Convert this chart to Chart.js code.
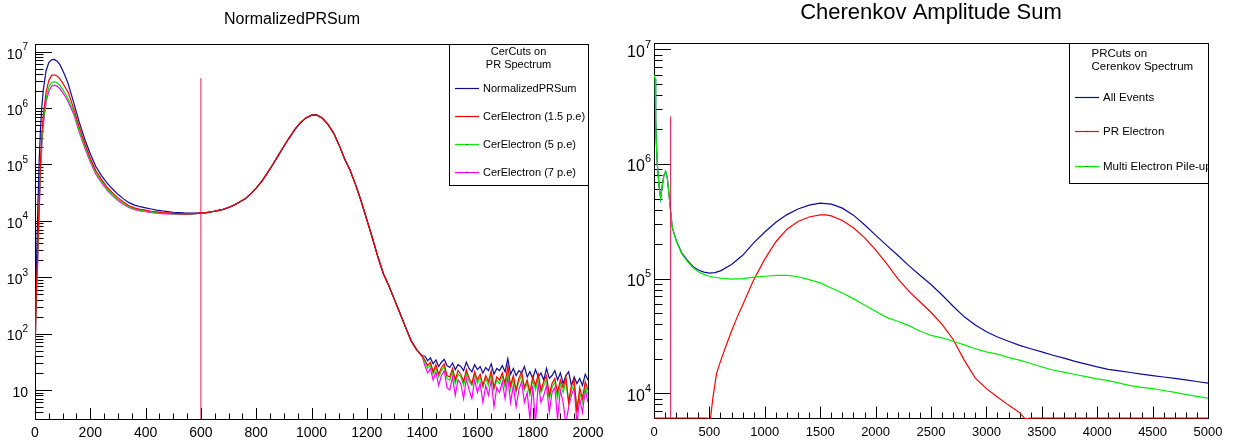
<!DOCTYPE html>
<html lang="en">

<head>
  <meta charset="UTF-8" />
  <title>NormalizedPRSum / Cherenkov Amplitude Sum</title>
  <script src="https://cdn.jsdelivr.net/npm/chart.js"></script>
  <style>
    body {
      margin: 0;
      background: #fff;
    }

    #wrap {
      position: relative;
      width: 1237px;
      height: 445px;
    }

    #left {
      position: absolute;
      left: 0;
      top: 0;
    }

    #right {
      position: absolute;
      left: 615px;
      top: 0;
    }
  </style>
</head>

<body>
  <div id="wrap">
    <canvas id="left" width="615" height="445"></canvas>
    <canvas id="right" width="622" height="445"></canvas>
  </div>

  <script>
    // ---------- left pad: NormalizedPRSum ----------
    const leftHeadX = [0, 5, 10, 15, 20, 25, 30, 40, 50, 60, 70, 80, 90, 100, 110, 120,
      140, 160, 180, 200, 220, 240, 260, 280, 300, 320, 340, 360, 380, 400, 420, 440, 460, 480, 500, 520, 540, 560, 580];
    const prSumHead = [80, 1500, 1.5e4, 1.1e5, 4.5e5, 1.1e6, 2.1e6, 4.6e6, 6.4e6, 7.2e6, 7.3e6, 6.8e6, 5.9e6, 4.7e6, 3.6e6, 2.7e6,
      1.25e6, 5.6e5, 2.8e5, 1.55e5, 9.2e4, 6.4e4, 4.7e4, 3.7e4, 2.95e4, 2.45e4, 2.1e4, 1.9e4, 1.78e4, 1.7e4, 1.62e4, 1.55e4, 1.5e4, 1.46e4, 1.42e4, 1.4e4, 1.38e4, 1.37e4, 1.37e4];
    const cer15Head = [50, 600, 3000, 2.0e4, 1.2e5, 3.5e5, 7.5e5, 1.9e6, 3.1e6, 3.8e6, 3.9e6, 3.7e6, 3.3e6, 2.8e6, 2.3e6, 1.9e6,
      9.8e5, 4.6e5, 2.35e5, 1.3e5, 7.8e4, 5.5e4, 4.0e4, 3.15e4, 2.55e4, 2.15e4, 1.85e4, 1.7e4, 1.6e4, 1.55e4, 1.48e4, 1.44e4, 1.4e4, 1.38e4, 1.35e4, 1.34e4, 1.33e4, 1.33e4, 1.35e4];
    const cer5Head = [50, 500, 2500, 1.6e4, 9e4, 2.7e5, 5.8e5, 1.45e6, 2.35e6, 2.85e6, 2.95e6, 2.8e6, 2.5e6, 2.15e6, 1.8e6, 1.45e6,
      8.7e5, 4.0e5, 2.1e5, 1.2e5, 7.2e4, 5.1e4, 3.75e4, 2.95e4, 2.4e4, 2.03e4, 1.78e4, 1.63e4, 1.54e4, 1.49e4, 1.44e4, 1.4e4, 1.37e4, 1.35e4, 1.33e4, 1.32e4, 1.32e4, 1.32e4, 1.34e4];
    const cer7Head = [40, 400, 2000, 1.3e4, 7.5e4, 2.3e5, 5.0e5, 1.25e6, 2.0e6, 2.45e6, 2.55e6, 2.45e6, 2.2e6, 1.9e6, 1.6e6, 1.3e6,
      7.8e5, 3.7e5, 1.95e5, 1.1e5, 6.7e4, 4.8e4, 3.55e4, 2.8e4, 2.3e4, 1.95e4, 1.72e4, 1.58e4, 1.5e4, 1.45e4, 1.4e4, 1.37e4, 1.34e4, 1.32e4, 1.31e4, 1.3e4, 1.3e4, 1.31e4, 1.33e4];

    // 600..1400: the four spectra lie on top of each other
    const leftMidX = [600, 620, 640, 660, 680, 700, 720, 740, 760, 780, 800, 820, 840, 860, 880, 900, 920, 940, 960, 980, 1000, 1010,
      1020, 1040, 1060, 1080, 1100, 1120, 1140, 1160, 1180, 1200, 1220, 1240, 1260, 1280, 1300, 1320, 1340, 1360, 1380, 1400];
    const sharedMid = [1.38e4, 1.4e4, 1.45e4, 1.52e4, 1.6e4, 1.72e4, 1.9e4, 2.15e4, 2.45e4, 3.0e4, 3.8e4, 5.0e4, 7.0e4, 1.0e5, 1.45e5, 2.1e5, 3.0e5, 4.2e5, 5.5e5, 6.7e5, 7.5e5, 7.6e5,
      7.5e5, 6.6e5, 5.1e5, 3.6e5, 2.2e5, 1.25e5, 7.8e4, 4.3e4, 2.2e4, 1.05e4, 5000, 2300, 1150, 700, 400, 230, 130, 75, 52, 40];

    // 1410..2000, 10-wide bins (noisy tail)
    const prSumTail = [40, 33, 37, 29, 34, 26, 31, 35, 27, 25, 30, 23, 28, 26, 22, 31, 24, 21, 28, 23,
      26, 20, 25, 22, 29, 19, 24, 22, 27, 21, 36, 19, 24, 18, 22, 20, 26, 17, 21, 16,
      23, 17, 20, 15, 24, 16, 18, 22, 15, 20, 13, 18, 21, 12, 17, 13, 16, 12, 19, 15];
    const cer15Tail = [34, 27, 31, 21, 28, 19, 25, 29, 18, 17, 24, 15, 22, 19, 14, 23, 16, 13, 21, 15,
      19, 12, 18, 14, 22, 11, 17, 15, 20, 13, 27, 12, 18, 10, 16, 21, 11, 15, 9, 17,
      12, 19, 10, 14, 18, 8, 13, 16, 9, 15, 11, 17, 6, 12, 15, 4, 11, 7, 14, 10];
    const cer5Tail = [31, 24, 28, 19, 25, 17, 22, 26, 16, 15, 21, 13, 19, 17, 12, 20, 14, 12, 19, 13,
      17, 11, 16, 12, 19, 10, 15, 13, 18, 11, 22, 10, 16, 9, 14, 18, 10, 13, 8, 15,
      10, 16, 9, 12, 15, 7, 11, 14, 7, 13, 9, 14, 6, 10, 13, 5, 9, 6, 12, 8];
    const cer7Tail = [27, 20, 24, 15, 21, 12, 18, 22, 11, 10, 17, 8, 15, 13, 7, 16, 10, 7, 15, 9,
      13, 6, 12, 8, 15, 5, 11, 9, 14, 7, 17, 6, 12, 5, 10, 14, 6, 9, 3, 12,
      2.5, 13, 6, 8, 12, 4, 9, 11, 3, 10, 6, 2.5, 5, 8, 11, 2.5, 7, 4, 10, 6];

    const leftCutX = 600;
    const leftCutTop = 3.4e6;
    const leftYMin = 3.05;
    const leftYMax = 1.37e7;

    // ---------- right pad: Cherenkov Amplitude Sum ----------
    const rightX = [0, 10, 15, 20, 30, 45, 60, 75, 90, 105, 120, 135, 145, 165, 185, 205, 250, 300, 350, 400, 450, 500, 550, 600,
      700, 800, 900, 1000, 1100, 1200, 1300, 1400, 1500, 1600, 1700, 1800, 1900, 2000, 2100, 2200, 2300, 2400, 2500, 2600,
      2700, 2800, 2900, 3000, 3100, 3200, 3300, 3400, 3500, 3600, 3700, 3800, 3900, 4000, 4100, 4200, 4300, 4400, 4500,
      4600, 4700, 4800, 4900, 5000];
    const allEvents = [6.0e6, 5.5e6, 2.5e6, 1.6e6, 1.0e6, 6.5e5, 5.0e5, 6.5e5, 8.0e5, 8.6e5, 7.6e5, 5.5e5, 4.3e5, 2.8e5, 2.4e5, 2.1e5, 1.68e5, 1.45e5, 1.28e5, 1.19e5, 1.14e5, 1.12e5, 1.13e5, 1.17e5,
      1.33e5, 1.6e5, 2.05e5, 2.55e5, 3.1e5, 3.62e5, 4.05e5, 4.38e5, 4.55e5, 4.47e5, 4.12e5, 3.58e5, 2.95e5, 2.4e5, 1.95e5, 1.6e5, 1.3e5, 1.07e5, 8.9e4, 7.2e4,
      5.75e4, 4.65e4, 3.95e4, 3.45e4, 3.1e4, 2.85e4, 2.62e4, 2.45e4, 2.3e4, 2.15e4, 2.03e4, 1.9e4, 1.8e4, 1.7e4, 1.62e4, 1.57e4, 1.52e4, 1.47e4, 1.43e4,
      1.39e4, 1.35e4, 1.31e4, 1.27e4, 1.23e4];
    const pileUp = [6.0e6, 5.5e6, 2.5e6, 1.6e6, 1.0e6, 6.5e5, 5.0e5, 6.5e5, 8.0e5, 8.6e5, 7.6e5, 5.5e5, 4.3e5, 2.8e5, 2.4e5, 2.1e5, 1.65e5, 1.42e5, 1.25e5, 1.15e5, 1.09e5, 1.05e5, 1.03e5, 1.01e5,
      9.9e4, 1.0e5, 1.03e5, 1.05e5, 1.07e5, 1.07e5, 1.04e5, 9.8e4, 9.2e4, 8.3e4, 7.5e4, 6.7e4, 5.9e4, 5.2e4, 4.6e4, 4.25e4, 3.9e4, 3.5e4, 3.2e4, 3.05e4,
      2.85e4, 2.65e4, 2.45e4, 2.3e4, 2.2e4, 2.05e4, 1.95e4, 1.82e4, 1.7e4, 1.6e4, 1.53e4, 1.46e4, 1.4e4, 1.34e4, 1.29e4, 1.23e4, 1.17e4, 1.13e4, 1.1e4,
      1.06e4, 1.02e4, 9800, 9400, 9100];

    const prElectronX = [0, 480, 500, 530, 565, 600, 650, 700, 750, 800, 900, 1000, 1100, 1200, 1300, 1400, 1500, 1550, 1600, 1700, 1800, 1900,
      2000, 2100, 2200, 2300, 2400, 2500, 2600, 2700, 2800, 2900, 3000, 3100, 3200, 3300, 3350, 3400, 5000];
    const prElectron = [0, 0, 5000, 8900, 1.5e4, 1.9e4, 2.6e4, 3.5e4, 4.6e4, 5.9e4, 9.8e4, 1.48e5, 2.1e5, 2.7e5, 3.15e5, 3.45e5, 3.6e5, 3.6e5, 3.53e5, 3.22e5, 2.78e5, 2.28e5,
      1.78e5, 1.35e5, 1.0e5, 7.8e4, 6.3e4, 5.1e4, 4.0e4, 2.95e4, 1.95e4, 1.36e4, 1.1e4, 9300, 7900, 6800, 6000, 0, 0];

    const rightCutX = 150;
    const rightCutTop = 2.6e6;
    const rightYMin = 6100;
    const rightYMax = 1.135e7;

    const FONT = '"Liberation Sans", Arial, Helvetica, sans-serif';

    // empty bins are drawn on the bottom of the frame, as ROOT does
    const pts = (xs, ys, floor) => xs.map((x, i) => ({ x, y: ys[i] > 0 ? ys[i] : floor }));
    const tailX = prSumTail.map((_, i) => 1410 + 10 * i);

    function series(label, color, data, order) {
      return {
        label,
        data,
        borderColor: color,
        borderWidth: 1.2,
        pointRadius: 0,
        tension: 0,
        fill: false,
        order,
      };
    }

    // frame, ticks and tick labels drawn the ROOT way (ticks inside the frame)
    function rootAxes(cfg) {
      return {
        id: "rootAxes",
        beforeDatasetsDraw(chart) {
          const { ctx, chartArea: a, scales } = chart;
          const x = scales.x, y = scales.y;
          ctx.save();
          ctx.strokeStyle = "#000";
          ctx.lineWidth = 1;
          ctx.strokeRect(a.left + 0.5, a.top + 0.5, a.right - a.left, a.bottom - a.top);

          ctx.beginPath();
          for (let v = x.min; v <= x.max + 1e-6; v += cfg.xMinor) {
            const px = Math.round(x.getPixelForValue(v)) + 0.5;
            const len = Math.round(v) % cfg.xMajor === 0 ? cfg.xMajorLen : cfg.xMinorLen;
            ctx.moveTo(px, a.bottom);
            ctx.lineTo(px, a.bottom - len);
          }
          const kLo = Math.floor(Math.log10(y.min));
          const kHi = Math.ceil(Math.log10(y.max));
          for (let k = kLo; k <= kHi; k++) {
            for (let m = 1; m <= 9; m++) {
              const v = m * Math.pow(10, k);
              if (v < y.min || v > y.max) continue;
              const py = Math.round(y.getPixelForValue(v)) + 0.5;
              ctx.moveTo(a.left, py);
              ctx.lineTo(a.left + (m === 1 ? cfg.yMajorLen : cfg.yMinorLen), py);
            }
          }
          ctx.stroke();

          ctx.fillStyle = "#000";
          ctx.font = `${cfg.xFont}px ${FONT}`;
          ctx.textAlign = "center";
          ctx.textBaseline = "middle";
          for (let v = x.min; v <= x.max + 1e-6; v += cfg.xMajor) {
            ctx.fillText(String(v), x.getPixelForValue(v), a.bottom + 14);
          }

          const right = a.left - cfg.yLabelGap;
          for (let k = kLo; k <= kHi; k++) {
            const v = Math.pow(10, k);
            if (v < y.min || v > y.max) continue;
            const py = y.getPixelForValue(v);
            const ex = k === 1 ? "" : String(k);
            ctx.font = `${cfg.expFont}px ${FONT}`;
            const ew = ex ? ctx.measureText(ex).width : 0;
            ctx.font = `${cfg.yFont}px ${FONT}`;
            ctx.textAlign = "right";
            ctx.fillText("10", right - ew, py + 3);
            if (ex) {
              ctx.font = `${cfg.expFont}px ${FONT}`;
              ctx.textAlign = "left";
              ctx.fillText(ex, right - ew, py - cfg.yFont * 0.3);
            }
          }
          ctx.restore();
        },
        afterDraw(chart) {
          const { ctx } = chart;
          ctx.save();
          ctx.fillStyle = "#000";
          ctx.font = `${cfg.titleSize}px ${FONT}`;
          ctx.textAlign = "center";
          ctx.textBaseline = "middle";
          ctx.fillText(cfg.title, cfg.titleX, cfg.titleY);
          ctx.restore();
        },
      };
    }

    // ROOT TLegend box in the top right corner of the frame
    function rootLegend(cfg) {
      return {
        id: "rootLegend",
        afterDatasetsDraw(chart) {
          const { ctx, chartArea: a } = chart;
          const x0 = a.right - cfg.width;
          const y0 = a.top;
          ctx.save();
          ctx.fillStyle = "#fff";
          ctx.fillRect(x0, y0, cfg.width, cfg.height);
          ctx.strokeStyle = "#000";
          ctx.lineWidth = 1;
          ctx.strokeRect(Math.round(x0) + 0.5, y0 + 0.5, cfg.width, cfg.height);
          ctx.beginPath();
          ctx.rect(x0, y0, cfg.width, cfg.height);
          ctx.clip();

          ctx.fillStyle = "#000";
          ctx.font = `${cfg.font}px ${FONT}`;
          ctx.textBaseline = "middle";
          cfg.header.forEach((t, i) => {
            if (cfg.headerX === null) {
              ctx.textAlign = "center";
              ctx.fillText(t, x0 + cfg.width / 2, y0 + cfg.headerY[i]);
            } else {
              ctx.textAlign = "left";
              ctx.fillText(t, x0 + cfg.headerX, y0 + cfg.headerY[i]);
            }
          });

          ctx.textAlign = "left";
          cfg.entries.forEach((idx, i) => {
            const ds = chart.data.datasets[idx];
            const yy = Math.round(y0 + cfg.rowY[i]) + 0.5;
            ctx.strokeStyle = ds.borderColor;
            ctx.lineWidth = 1.2;
            ctx.beginPath();
            ctx.moveTo(x0 + 6, yy);
            ctx.lineTo(x0 + 30, yy);
            ctx.stroke();
            ctx.fillStyle = "#222";
            ctx.fillRect(x0 + 17.5, yy - 0.5, 1, 1);
            ctx.fillStyle = "#000";
            ctx.fillText(ds.label, x0 + 34, yy);
          });
          ctx.restore();
        },
      };
    }

    function baseOptions(xMax, yMin, yMax, padding) {
      return {
        responsive: false,
        animation: false,
        events: [],
        layout: { padding },
        plugins: { legend: { display: false }, tooltip: { enabled: false } },
        scales: {
          x: { type: "linear", display: false, min: 0, max: xMax, bounds: "data" },
          y: { type: "logarithmic", display: false, min: yMin, max: yMax, bounds: "data" },
        },
      };
    }

    const cutColor = "#e8194f";

    new Chart(document.getElementById("left"), {
      type: "line",
      data: {
        datasets: [
          series("NormalizedPRSum", "#0c0c99", pts(leftHeadX, prSumHead).concat(pts(leftMidX, sharedMid), pts(tailX, prSumTail)), 1),
          series("CerElectron (1.5 p.e)", "#ff0000", pts(leftHeadX, cer15Head).concat(pts(leftMidX, sharedMid), pts(tailX, cer15Tail)), 0),
          series("CerElectron (5 p.e)", "#00ee00", pts(leftHeadX, cer5Head).concat(pts(leftMidX, sharedMid), pts(tailX, cer5Tail)), 2),
          series("CerElectron (7 p.e)", "#ff00ff", pts(leftHeadX, cer7Head).concat(pts(leftMidX, sharedMid), pts(tailX, cer7Tail)), 3),
          { ...series("cut", cutColor, [{ x: leftCutX, y: leftYMin }, { x: leftCutX, y: leftCutTop }], -1), borderWidth: 1 },
        ],
      },
      options: baseOptions(2000, leftYMin, leftYMax, { left: 35, top: 44, right: 27, bottom: 26 }),
      plugins: [
        rootAxes({
          xMinor: 50, xMajor: 200, xMajorLen: 11, xMinorLen: 5.5,
          yMajorLen: 17, yMinorLen: 8.5, yLabelGap: 7,
          xFont: 14, yFont: 14, expFont: 10,
          title: "NormalizedPRSum", titleSize: 16, titleX: 292, titleY: 20,
        }),
        rootLegend({
          width: 139, height: 141, font: 11,
          header: ["CerCuts on", "PR Spectrum"], headerX: null, headerY: [8, 20.5],
          entries: [0, 1, 2, 3], rowY: [44, 72, 100, 128],
        }),
      ],
    });

    new Chart(document.getElementById("right"), {
      type: "line",
      data: {
        datasets: [
          series("All Events", "#0c0c99", pts(rightX, allEvents), 2),
          { ...series("PR Electron", "#ff0000", pts(prElectronX, prElectron, rightYMin), 1), clip: { left: 0, top: 0, right: 0, bottom: 1 } },
          series("Multi Electron Pile-up", "#00ee00", pts(rightX, pileUp), 0),
          { ...series("cut", cutColor, [{ x: rightCutX, y: rightYMin }, { x: rightCutX, y: rightCutTop }], -1), borderWidth: 1 },
        ],
      },
      options: baseOptions(5000, rightYMin, rightYMax, { left: 39, top: 43, right: 29, bottom: 27 }),
      plugins: [
        rootAxes({
          xMinor: 100, xMajor: 500, xMajorLen: 11.5, xMinorLen: 5.5,
          yMajorLen: 17, yMinorLen: 8.5, yLabelGap: 3,
          xFont: 13, yFont: 16, expFont: 11,
          title: "Cherenkov Amplitude Sum", titleSize: 22, titleX: 316, titleY: 13,
        }),
        rootLegend({
          width: 139, height: 140, font: 11.5,
          header: ["PRCuts on", "Cerenkov Spectrum"], headerX: 22.5, headerY: [11, 23.5],
          entries: [0, 1, 2], rowY: [54, 88, 123],
        }),
      ],
    });
  </script>
</body>

</html>
